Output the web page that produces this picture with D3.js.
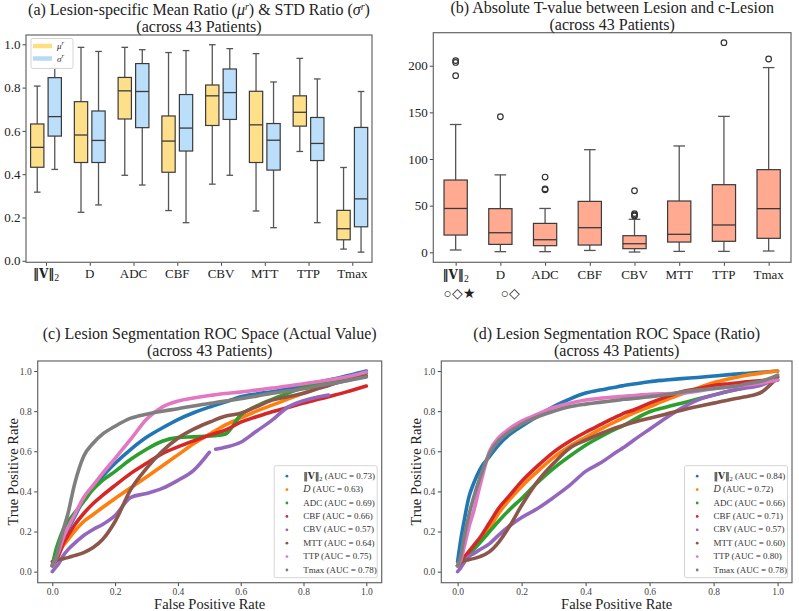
<!DOCTYPE html>
<html>
<head>
<meta charset="utf-8">
<script src="https://cdn.jsdelivr.net/npm/d3@7"></script>
<style>
  body { margin: 0; background: #fff; }
  svg text { font-family: "Liberation Serif", "Times New Roman", serif; }
</style>
</head>
<body>
<svg id="fig" width="799" height="611"></svg>
<script>
// ---- data ----
const categories = ["V", "D", "ADC", "CBF", "CBV", "MTT", "TTP", "Tmax"];

// [low whisker, Q1, median, Q3, high whisker]
const muRatio = [
  [0.317, 0.432, 0.524, 0.632, 0.807],
  [0.224, 0.454, 0.581, 0.735, 0.986],
  [0.395, 0.655, 0.785, 0.847, 0.986],
  [0.232, 0.409, 0.553, 0.669, 0.962],
  [0.354, 0.625, 0.762, 0.812, 0.998],
  [0.230, 0.454, 0.628, 0.783, 0.957],
  [0.505, 0.622, 0.686, 0.762, 0.935],
  [0.054, 0.097, 0.148, 0.233, 0.431]
];
const sigmaRatio = [
  [0.422, 0.576, 0.666, 0.846, 0.890],
  [0.258, 0.454, 0.556, 0.692, 0.967],
  [0.350, 0.615, 0.782, 0.911, 0.975],
  [0.176, 0.507, 0.613, 0.768, 0.971],
  [0.395, 0.653, 0.777, 0.886, 0.980],
  [0.153, 0.419, 0.557, 0.634, 0.826],
  [0.176, 0.463, 0.542, 0.662, 0.840],
  [0.040, 0.157, 0.286, 0.616, 0.782]
];
const tValue = [
  [2.5, 18.5, 47, 77.5, 137],
  [0.7, 8.5, 21, 46.8, 83],
  [0.7, 7.1, 13.5, 31, 47],
  [2, 7.8, 26.4, 54.6, 110],
  [0.3, 3.9, 9.2, 17.8, 35.4],
  [1, 11, 19.3, 55, 114],
  [1, 11.8, 29.3, 72.5, 145.7],
  [1.4, 15, 46.8, 88.6, 198]
];
const tOutliers = [[205.5, 203.5, 189.3], [145.3], [80.7, 68, 67], [], [66, 41.5, 40, 39], [], [224.7], [207.2]];
const sigMarks = [["○◇★", 0], ["○◇", 1]];

const rocColors = ["#1f77b4", "#ff7f0e", "#2ca02c", "#d62728", "#9467bd", "#8c564b", "#e377c2", "#7f7f7f"];
const aucActual = [0.73, 0.63, 0.69, 0.66, 0.57, 0.64, 0.75, 0.78];
const aucRatio = [0.84, 0.72, 0.66, 0.71, 0.57, 0.60, 0.80, 0.78];

const fprGrid = [0, .01, .02, .035, .05, .07, .1, .13, .16, .2, .25, .3, .35, .4, .45, .5, .51, .52, .55, .6, .65, .7, .75, .8, .85, .88, .9, .95, 1];

// TPR on fprGrid (null = no point)
const tprActual = [
  [.03,.06,.09,.16,.21,.27,.36,.42,.475,.54,.61,.67,.716,.758,.792,.82,.825,.83,.845,.872,.886,.897,.912,.93,.945,.955,.962,.98,1.0],
  [.03,.06,.09,.13,.16,.2,.25,.285,.32,.365,.418,.472,.527,.582,.637,.685,.694,.703,.73,.766,.8,.83,.86,.889,.915,.93,.94,.965,.99],
  [.03,.1,.15,.21,.25,.29,.35,.41,.455,.5,.56,.61,.65,.668,.672,.676,.677,.678,.685,.78,.825,.859,.89,.918,.94,.95,.955,.972,.99],
  [.03,.05,.08,.14,.18,.23,.29,.34,.38,.43,.49,.54,.588,.622,.652,.68,.685,.69,.705,.745,.772,.797,.818,.84,.86,.872,.88,.902,.925],
  [0,.02,.04,.08,.11,.14,.18,.21,.235,.28,.37,.39,.415,.455,.505,.595,null,.61,.62,.645,.70,.755,.82,.852,.872,.88,null,null,null],
  [.05,.055,.06,.065,.07,.08,.095,.12,.16,.25,.41,.515,.60,.665,.71,.745,.75,.758,.775,.79,.822,.855,.872,.889,.915,.928,.939,.958,.975],
  [.03,.06,.1,.17,.22,.28,.37,.43,.49,.565,.66,.76,.82,.85,.866,.878,.88,.882,.888,.895,.905,.915,.925,.937,.948,.955,.96,.975,.995],
  [.03,.06,.12,.21,.29,.43,.575,.64,.685,.725,.765,.785,.80,.812,.826,.838,.84,.843,.85,.862,.875,.89,.9,.912,.928,.935,.94,.955,.97]
];
const tprRatio = [
  [.05,.16,.25,.37,.44,.51,.575,.635,.68,.725,.775,.823,.86,.89,.907,.922,.925,.928,.935,.947,.955,.962,.968,.975,.982,.986,.988,.994,1.0],
  [.03,.05,.07,.1,.125,.16,.22,.295,.355,.425,.5,.57,.625,.67,.713,.753,.76,.768,.79,.822,.855,.885,.915,.942,.962,.972,.978,.99,1.0],
  [.03,.045,.06,.085,.11,.145,.2,.255,.305,.365,.445,.515,.575,.63,.675,.715,.722,.73,.757,.797,.82,.84,.86,.88,.9,.91,.92,.937,.955],
  [.03,.05,.07,.1,.13,.17,.245,.32,.375,.45,.527,.596,.65,.695,.735,.775,.782,.79,.806,.84,.87,.897,.912,.928,.937,.942,.946,.952,.958],
  [0,.02,.045,.075,.09,.11,.14,.185,.225,.27,.315,.37,.43,.5,.545,.6,.61,.62,.655,.71,.765,.815,.855,.88,.9,.91,.915,.93,.97],
  [.03,.045,.055,.06,.065,.075,.1,.15,.22,.33,.45,.54,.615,.655,.69,.72,.725,.73,.745,.765,.785,.805,.823,.84,.857,.866,.872,.895,.97],
  [.03,.06,.12,.22,.3,.43,.6,.67,.71,.75,.785,.818,.84,.856,.865,.872,.873,.874,.878,.884,.887,.89,.9,.912,.92,.925,.93,.94,.955],
  [.03,.08,.17,.28,.37,.47,.59,.655,.695,.735,.772,.8,.822,.835,.845,.855,.857,.859,.863,.872,.882,.895,.905,.913,.922,.928,.935,.95,.98]
];

// ---- drawing ----
const svg = d3.select("#fig");
const spineColor = "#666";
const ink = "#222";

// category label, with the bold norm symbol for the first one
function catLabel(sel, name, size) {
  if (name === "V") {
    sel.append("tspan").attr("font-family", "DejaVu Serif").attr("font-weight", "bold")
      .attr("font-size", size - 1).attr("fill", ink).text("‖V‖");
    sel.append("tspan").attr("font-size", size * 0.75).attr("dy", 3).attr("fill", ink).text("2");
  } else {
    sel.text(name);
  }
}

function frame(g, x0, x1, y0, y1) {
  g.append("rect")
    .attr("x", x0).attr("y", y0)
    .attr("width", x1 - x0).attr("height", y1 - y0)
    .attr("fill", "none").attr("stroke", spineColor).attr("stroke-width", 1.2);
}

function title(g, cx, y, line1, line2) {
  const t = g.append("text").attr("x", cx).attr("y", y)
    .attr("text-anchor", "middle").attr("font-size", 16).attr("fill", ink);
  line1(t);
  g.append("text").attr("x", cx).attr("y", y + 17)
    .attr("text-anchor", "middle").attr("font-size", 16).attr("fill", ink)
    .text(line2);
}

function styleAxis(a, size, color) {
  a.select(".domain").remove();
  a.selectAll(".tick line").attr("stroke", "#444").attr("stroke-width", 1);
  a.selectAll("text").attr("font-family", "Liberation Serif").attr("font-size", size).attr("fill", color);
}

function drawBox(g, cx, w, s, fill, y) {
  const [lo, q1, med, q3, hi] = s;
  const edge = "#3a3a3a", wh = "#555";
  g.append("line").attr("x1", cx).attr("x2", cx).attr("y1", y(q3)).attr("y2", y(hi)).attr("stroke", wh).attr("stroke-width", 1.3);
  g.append("line").attr("x1", cx).attr("x2", cx).attr("y1", y(q1)).attr("y2", y(lo)).attr("stroke", wh).attr("stroke-width", 1.3);
  [lo, hi].forEach(v => g.append("line")
    .attr("x1", cx - w / 4).attr("x2", cx + w / 4).attr("y1", y(v)).attr("y2", y(v))
    .attr("stroke", wh).attr("stroke-width", 1.3));
  g.append("rect").attr("x", cx - w / 2).attr("y", y(q3))
    .attr("width", w).attr("height", y(q1) - y(q3))
    .attr("fill", fill).attr("stroke", edge).attr("stroke-width", 1.2);
  g.append("line").attr("x1", cx - w / 2).attr("x2", cx + w / 2).attr("y1", y(med)).attr("y2", y(med))
    .attr("stroke", edge).attr("stroke-width", 1.3);
}

// ---------- (a) ----------
{
  const g = svg.append("g");
  const L = 26, R = 372, T = 35, B = 262.3;
  const x = d3.scaleLinear().domain([-0.457, 7.45]).range([L, R]);
  const y = d3.scaleLinear().domain([-0.007, 1.043]).range([B, T]);
  const bw = 0.304 * (x(1) - x(0));
  const off = 0.2 * (x(1) - x(0));

  categories.forEach((c, i) => {
    drawBox(g, x(i) - off, bw, muRatio[i], "#FFE08A", y);
    drawBox(g, x(i) + off, bw, sigmaRatio[i], "#BBDEFB", y);
  });

  const ya = g.append("g").attr("transform", `translate(${L},0)`)
    .call(d3.axisLeft(y).tickValues([0, 0.2, 0.4, 0.6, 0.8, 1.0]).tickFormat(d3.format(".1f")).tickSize(3.5).tickPadding(2));
  styleAxis(ya, 13, ink);
  const xa = g.append("g").attr("transform", `translate(0,${B})`)
    .call(d3.axisBottom(x).tickValues(d3.range(8)).tickFormat("").tickSize(3.5));
  styleAxis(xa, 13, ink);
  categories.forEach((c, i) => {
    const t = g.append("text").attr("x", x(i)).attr("y", 278)
      .attr("text-anchor", "middle").attr("font-size", 13).attr("fill", ink);
    catLabel(t, c, 13);
  });
  frame(g, L, R, T, B);

  // legend
  const lg = g.append("g");
  lg.append("rect").attr("x", 31).attr("y", 38.5).attr("width", 42).attr("height", 30).attr("rx", 2)
    .attr("fill", "#fff").attr("fill-opacity", 0.85).attr("stroke", "#d5d5d5");
  [["μ", "#FFD966"], ["σ", "#A9D4F5"]].forEach(([s, col], i) => {
    const yy = 46 + i * 12.5;
    lg.append("line").attr("x1", 33).attr("x2", 52).attr("y1", yy).attr("y2", yy)
      .attr("stroke", col).attr("stroke-width", 4.5).attr("stroke-opacity", 0.85);
    const t = lg.append("text").attr("x", 57).attr("y", yy + 3).attr("font-size", 9).attr("fill", ink);
    t.append("tspan").attr("font-style", "italic").text(s);
    t.append("tspan").attr("font-size", 6.5).attr("dy", -4).attr("font-style", "italic").text("r");
  });

  title(g, (L + R) / 2, 15, t => {
    t.append("tspan").text("(a) Lesion-specific Mean Ratio (");
    t.append("tspan").attr("font-style", "italic").text("μ");
    t.append("tspan").attr("font-size", 10).attr("dy", -5).attr("font-style", "italic").text("r");
    t.append("tspan").attr("dy", 5).text(") & STD Ratio (");
    t.append("tspan").attr("font-style", "italic").text("σ");
    t.append("tspan").attr("font-size", 10).attr("dy", -5).attr("font-style", "italic").text("r");
    t.append("tspan").attr("dy", 5).text(")");
  }, "(across 43 Patients)");
}

// ---------- (b) ----------
{
  const g = svg.append("g");
  const L = 433.3, R = 791, T = 32.7, B = 262.3;
  const x = d3.scaleLinear().domain([-0.5, 7.5]).range([L, R]);
  const y = d3.scaleLinear().domain([-10.7, 235.4]).range([B, T]);
  const bw = 0.52 * (x(1) - x(0));

  categories.forEach((c, i) => {
    drawBox(g, x(i), bw, tValue[i], "#FFAA91", y);
    tOutliers[i].forEach(v => g.append("circle")
      .attr("cx", x(i)).attr("cy", y(v)).attr("r", 2.8)
      .attr("fill", "none").attr("stroke", "#333").attr("stroke-width", 1.2));
  });

  const ya = g.append("g").attr("transform", `translate(${L},0)`)
    .call(d3.axisLeft(y).tickValues([0, 50, 100, 150, 200]).tickSize(3.5).tickPadding(2));
  styleAxis(ya, 13, ink);
  const xa = g.append("g").attr("transform", `translate(0,${B})`)
    .call(d3.axisBottom(x).tickValues(d3.range(8)).tickFormat("").tickSize(3.5));
  styleAxis(xa, 13, ink);
  categories.forEach((c, i) => {
    const t = g.append("text").attr("x", x(i)).attr("y", 279)
      .attr("text-anchor", "middle").attr("font-size", 13).attr("fill", ink);
    catLabel(t, c, 13);
  });
  sigMarks.forEach(([m, i]) => {
    g.append("text").attr("x", x(i) + (i === 0 ? 4 : 10)).attr("y", 298)
      .attr("text-anchor", "middle").attr("font-family", "DejaVu Sans").attr("font-size", 13.5)
      .attr("fill", ink).text(m);
  });
  frame(g, L, R, T, B);

  title(g, (L + R) / 2, 13, t => t.text("(b) Absolute T-value between Lesion and c-Lesion"), "(across 43 Patients)");
}

// ---------- (c) & (d) ----------
function rocPanel(L, R, xDom, tpr, auc, titleText) {
  const g = svg.append("g");
  const T = 361, B = 582.7;
  const x = d3.scaleLinear().domain(xDom).range([L, R]);
  const y = d3.scaleLinear().domain([-0.055, 1.05]).range([B, T]);

  const line = d3.line()
    .defined(d => d[1] !== null)
    .x(d => x(d[0])).y(d => y(d[1]))
    .curve(d3.curveMonotoneX);

  tpr.forEach((series, k) => {
    const pts = fprGrid.map((f, j) => [f, series[j]]);
    g.append("path").attr("d", line(pts))
      .attr("fill", "none").attr("stroke", rocColors[k])
      .attr("stroke-width", 3.6).attr("stroke-linejoin", "round").attr("stroke-linecap", "round");
  });

  const ticks = [0, 0.2, 0.4, 0.6, 0.8, 1.0];
  const ya = g.append("g").attr("transform", `translate(${L},0)`)
    .call(d3.axisLeft(y).tickValues(ticks).tickFormat(d3.format(".1f")).tickSize(3.5).tickPadding(2.5));
  styleAxis(ya, 9.5, "#444");
  const xa = g.append("g").attr("transform", `translate(0,${B})`)
    .call(d3.axisBottom(x).tickValues(ticks).tickFormat(d3.format(".1f")).tickSize(3.5).tickPadding(2));
  styleAxis(xa, 9.5, "#444");
  frame(g, L, R, T, B);

  g.append("text").attr("x", (L + R) / 2).attr("y", 609)
    .attr("text-anchor", "middle").attr("font-size", 14.5).attr("fill", ink)
    .text("False Positive Rate");
  g.append("text").attr("transform", `translate(${L - 20},${(T + B) / 2}) rotate(-90)`)
    .attr("text-anchor", "middle").attr("font-size", 14.5).attr("fill", ink)
    .text("True Positive Rate");

  // legend, lower right
  const lw = 103, lh = 112;
  const lx = R - 4.5 - lw, ly = B - 5 - lh;
  const lg = g.append("g");
  lg.append("rect").attr("x", lx).attr("y", ly).attr("width", lw).attr("height", lh).attr("rx", 2)
    .attr("fill", "#fff").attr("fill-opacity", 0.85).attr("stroke", "#d5d5d5");
  categories.forEach((c, k) => {
    const yy = ly + 9.5 + k * 13.4;
    lg.append("circle").attr("cx", lx + 12.7).attr("cy", yy + 1).attr("r", 1.4).attr("fill", rocColors[k]);
    const t = lg.append("text").attr("x", lx + 29).attr("y", yy + 3.5).attr("font-size", 9).attr("fill", "#333");
    if (c === "V") {
      t.append("tspan").attr("font-family", "DejaVu Serif").attr("font-weight", "bold").attr("font-size", 9).text("‖V‖");
      t.append("tspan").attr("font-size", 6.5).attr("dy", 2).text("2");
      t.append("tspan").attr("dy", -2).text(` (AUC = ${auc[k].toFixed(2)})`);
    } else if (c === "D") {
      t.append("tspan").attr("font-style", "italic").attr("font-size", 10).text("D");
      t.append("tspan").text(` (AUC = ${auc[k].toFixed(2)})`);
    } else {
      t.text(`${c} (AUC = ${auc[k].toFixed(2)})`);
    }
  });

  title(g, (L + R) / 2, 339, t => t.text(titleText), "(across 43 Patients)");
}

rocPanel(37.7, 381.7, [-0.0465, 1.049], tprActual, aucActual, "(c) Lesion Segmentation ROC Space (Actual Value)");
rocPanel(441.3, 792, [-0.051, 1.045], tprRatio, aucRatio, "(d) Lesion Segmentation ROC Space (Ratio)");
</script>
</body>
</html>
